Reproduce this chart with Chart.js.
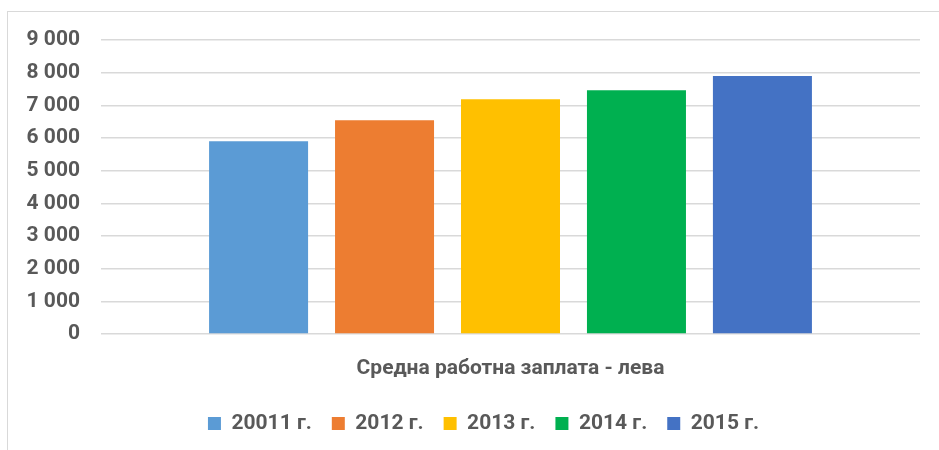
<!DOCTYPE html>
<html>
<head>
<meta charset="utf-8">
<script src="https://cdn.jsdelivr.net/npm/chart.js@4/dist/chart.umd.min.js"></script>
<style>
  html, body { margin: 0; padding: 0; background: #fff; overflow: hidden; width: 939px; height: 450px; }
  #box { position: absolute; left: 7px; top: 11px; width: 969px; height: 458px; border: 1px solid #d9d9d9; }
</style>
</head>
<body>
<div id="box"><canvas id="salary" width="969" height="458"></canvas></div>
<script>
const categories = ["Средна работна заплата - лева"];
const years = ["20011 г.", "2012 г.", "2013 г.", "2014 г.", "2015 г."];
const salaries = [5900, 6540, 7185, 7460, 7900];
const colours = ["#5b9bd5", "#ed7d31", "#ffc000", "#00b050", "#4472c4"];
const yTicks = [0, 1000, 2000, 3000, 4000, 5000, 6000, 7000, 8000, 9000];

const font = { family: "Roboto, 'Open Sans', sans-serif", size: 21, weight: "bold" };
const grey = "#595959";

// the legend in the original sits a bit right of the plot centre
const legendShift = {
	id: "legendShift",
	afterLayout(chart) {
		if (chart.legend) chart.legend.left += 39;
	},
};

const ctx = document.getElementById("salary").getContext("2d");
new Chart(ctx, {
	type: "bar",
	data: {
		labels: categories,
		datasets: years.map((y, i) => ({
			label: y,
			data: [salaries[i]],
			backgroundColor: colours[i],
			borderWidth: 0,
		})),
	},
	options: {
		responsive: false,
		animation: false,
		categoryPercentage: 0.769,
		barPercentage: 0.786,
		layout: { padding: { left: 0, right: 57, top: 28, bottom: 26 } },
		plugins: {
			legend: {
				position: "bottom",
				labels: { font: font, color: grey, boxWidth: 13, boxHeight: 13, padding: 20 },
			},
			tooltip: { enabled: false },
		},
		scales: {
			x: {
				grid: { display: false },
				border: { display: false },
				ticks: { font: font, color: grey, padding: 14 },
				afterFit: (s) => { s.height = 59; },
			},
			y: {
				min: yTicks[0],
				max: yTicks[yTicks.length - 1],
				afterBuildTicks: (s) => { s.ticks = yTicks.map((v) => ({ value: v })); },
				grid: { color: "#d9d9d9", lineWidth: 1.5, drawTicks: false },
				border: { display: false },
				ticks: {
					font: font,
					color: grey,
					padding: 21,
					callback: (v) => String(v).replace(/\B(?=(\d{3})+(?!\d))/g, " "),
				},
				afterFit: (s) => { s.width = 93; s.paddingTop = 0; s.paddingBottom = 0; },
			},
		},
	},
	plugins: [legendShift],
});
</script>
</body>
</html>
